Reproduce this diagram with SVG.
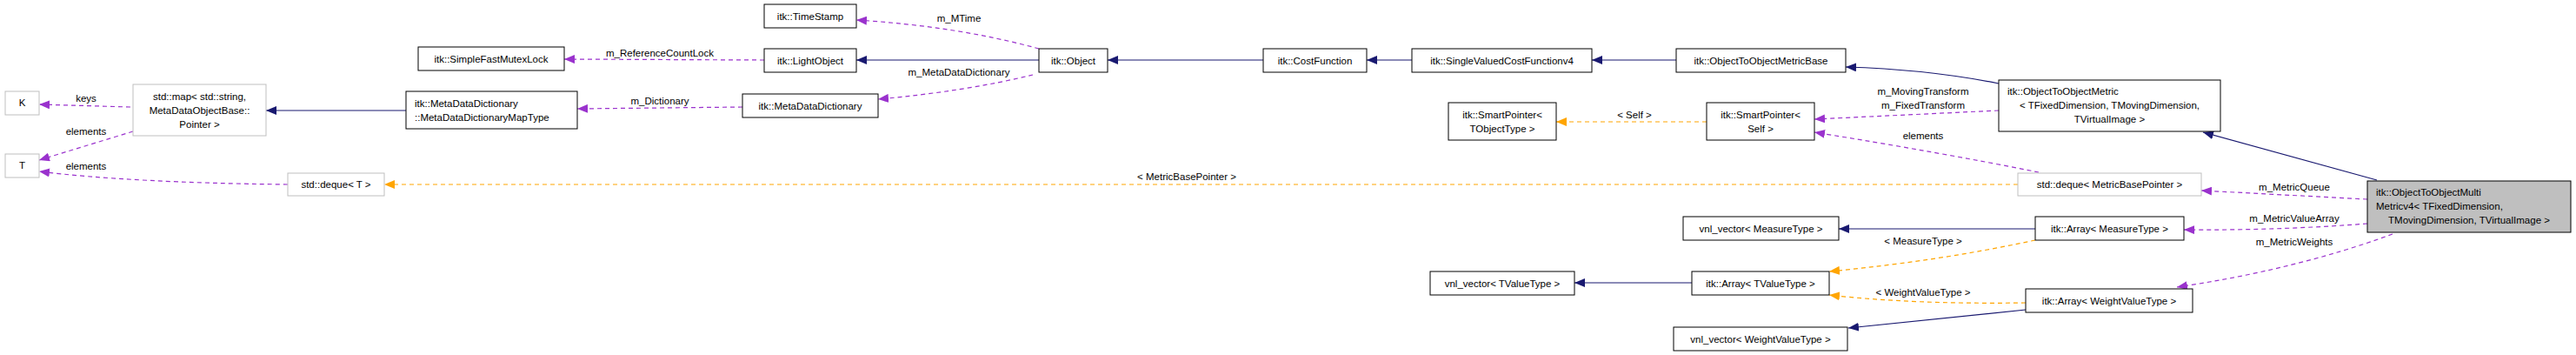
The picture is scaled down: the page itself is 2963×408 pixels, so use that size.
<svg xmlns="http://www.w3.org/2000/svg" width="2963" height="408" viewBox="0 0 2963 408">
<style>
text{font-family:"Liberation Sans Narrow","Liberation Sans",Arial,sans-serif;font-size:11.5px;fill:#000}
.n rect{fill:#fff;stroke:#000;stroke-width:1}
.g rect{fill:#fff;stroke:#bfbfbf;stroke-width:1}
.m rect{fill:#bfbfbf;stroke:#000;stroke-width:1}
.inh{fill:none;stroke:#191970;stroke-width:1.2;marker-end:url(#ai)}
.use{fill:none;stroke:#9a32cd;stroke-width:1.2;stroke-dasharray:5,4;marker-end:url(#au)}
.tpl{fill:none;stroke:#ffa500;stroke-width:1.2;stroke-dasharray:5,4;marker-end:url(#at)}
</style>
<defs>
<marker id="ai" markerUnits="userSpaceOnUse" markerWidth="12" markerHeight="10" refX="12" refY="5" orient="auto"><path d="M0,0L12,5L0,10z" fill="#191970"/></marker>
<marker id="au" markerUnits="userSpaceOnUse" markerWidth="12" markerHeight="10" refX="12" refY="5" orient="auto"><path d="M0,0L12,5L0,10z" fill="#9a32cd"/></marker>
<marker id="at" markerUnits="userSpaceOnUse" markerWidth="12" markerHeight="10" refX="12" refY="5" orient="auto"><path d="M0,0L12,5L0,10z" fill="#ffa500"/></marker>
</defs>
<rect width="2963" height="408" fill="#fff"/>
<g id="connectors">
<path class="inh" d="M1195,69L985,69"/>
<path class="inh" d="M1453,69L1274,69"/>
<path class="inh" d="M1624,69L1572,69"/>
<path class="inh" d="M1928,69L1831,69"/>
<path class="inh" d="M2299,96Q2220,80 2123,77"/>
<path class="inh" d="M2734,207L2534,152"/>
<path class="inh" d="M467,127L306,127"/>
<path class="inh" d="M2341,263L2115,263"/>
<path class="inh" d="M1946,325L1811,325"/>
<path class="inh" d="M2330,356L2126,377"/>
<path class="use" d="M1195,56Q1100,30 985,23"/>
<text x="1103" y="25" text-anchor="middle">m_MTime</text>
<path class="use" d="M879,69L649,68"/>
<text x="759" y="65" text-anchor="middle">m_ReferenceCountLock</text>
<path class="use" d="M1188,86Q1110,105 1010,114"/>
<text x="1103" y="87" text-anchor="middle">m_MetaDataDictionary</text>
<path class="use" d="M854,123L664,125"/>
<text x="759" y="120" text-anchor="middle">m_Dictionary</text>
<path class="use" d="M150,123L45,120"/>
<text x="99" y="117" text-anchor="middle">keys</text>
<path class="use" d="M153,151L45,184"/>
<text x="99" y="155" text-anchor="middle">elements</text>
<path class="use" d="M331,212Q150,210 45,197"/>
<text x="99" y="195" text-anchor="middle">elements</text>
<path class="use" d="M2299,127L2087,137"/>
<text x="2212" y="109" text-anchor="middle">m_MovingTransform</text>
<text x="2212" y="125" text-anchor="middle">m_FixedTransform</text>
<path class="use" d="M2345,198Q2230,175 2087,152"/>
<text x="2212" y="160" text-anchor="middle">elements</text>
<path class="use" d="M2723,229L2532,219"/>
<text x="2639" y="219" text-anchor="middle">m_MetricQueue</text>
<path class="use" d="M2723,257Q2620,265 2512,264"/>
<text x="2639" y="255" text-anchor="middle">m_MetricValueArray</text>
<path class="use" d="M2752,269Q2640,310 2504,330"/>
<text x="2639" y="282" text-anchor="middle">m_MetricWeights</text>
<path class="tpl" d="M1963,140L1790,140"/>
<text x="1880" y="136" text-anchor="middle">&lt; Self &gt;</text>
<path class="tpl" d="M2321,212L442,212"/>
<text x="1365" y="207" text-anchor="middle">&lt; MetricBasePointer &gt;</text>
<path class="tpl" d="M2341,276Q2230,300 2104,312"/>
<text x="2212" y="281" text-anchor="middle">&lt; MeasureType &gt;</text>
<path class="tpl" d="M2330,348Q2200,350 2104,339"/>
<text x="2212" y="340" text-anchor="middle">&lt; WeightValueType &gt;</text>
</g>
<g id="K" class="g"><rect x="6" y="105" width="39" height="27"/><text x="25.5" y="122" text-anchor="middle">K</text></g>
<g id="T" class="g"><rect x="6" y="177" width="39" height="27"/><text x="25.5" y="194" text-anchor="middle">T</text></g>
<g id="stdmap" class="g"><rect x="153" y="97" width="153" height="59"/><text x="229.5" y="115" text-anchor="middle">std::map&lt; std::string,</text><text x="229.5" y="131" text-anchor="middle">MetaDataObjectBase::</text><text x="229.5" y="147" text-anchor="middle">Pointer &gt;</text></g>
<g id="dequeT" class="g"><rect x="331" y="199" width="111" height="26"/><text x="386.5" y="216" text-anchor="middle">std::deque&lt; T &gt;</text></g>
<g id="SimpleFastMutexLock" class="n"><rect x="481" y="54" width="168" height="27"/><text x="565" y="72" text-anchor="middle">itk::SimpleFastMutexLock</text></g>
<g id="MapType" class="n"><rect x="467" y="105" width="197" height="43"/><text x="477" y="123">itk::MetaDataDictionary</text><text x="477" y="139">::MetaDataDictionaryMapType</text></g>
<g id="TimeStamp" class="n"><rect x="879" y="5" width="106" height="27"/><text x="932" y="23" text-anchor="middle">itk::TimeStamp</text></g>
<g id="LightObject" class="n"><rect x="879" y="56" width="106" height="27"/><text x="932" y="74" text-anchor="middle">itk::LightObject</text></g>
<g id="MetaDataDictionary" class="n"><rect x="854" y="108" width="156" height="27"/><text x="932" y="126" text-anchor="middle">itk::MetaDataDictionary</text></g>
<g id="Object" class="n"><rect x="1195" y="56" width="79" height="27"/><text x="1234.5" y="74" text-anchor="middle">itk::Object</text></g>
<g id="CostFunction" class="n"><rect x="1453" y="56" width="119" height="27"/><text x="1512.5" y="74" text-anchor="middle">itk::CostFunction</text></g>
<g id="SVCF" class="n"><rect x="1624" y="56" width="207" height="27"/><text x="1727.5" y="74" text-anchor="middle">itk::SingleValuedCostFunctionv4</text></g>
<g id="OTOMBase" class="n"><rect x="1928" y="56" width="195" height="27"/><text x="2025.5" y="74" text-anchor="middle">itk::ObjectToObjectMetricBase</text></g>
<g id="SPTObj" class="n"><rect x="1666" y="118" width="124" height="43"/><text x="1728" y="136" text-anchor="middle">itk::SmartPointer&lt;</text><text x="1728" y="152" text-anchor="middle">TObjectType &gt;</text></g>
<g id="SPSelf" class="n"><rect x="1963" y="118" width="124" height="43"/><text x="2025" y="136" text-anchor="middle">itk::SmartPointer&lt;</text><text x="2025" y="152" text-anchor="middle">Self &gt;</text></g>
<g id="OTOMetric" class="n"><rect x="2299" y="92" width="255" height="59"/><text x="2309" y="109">itk::ObjectToObjectMetric</text><text x="2426.5" y="125" text-anchor="middle">&lt; TFixedDimension, TMovingDimension,</text><text x="2426.5" y="141" text-anchor="middle">TVirtualImage &gt;</text></g>
<g id="dequeMBP" class="g"><rect x="2321" y="199" width="211" height="26"/><text x="2426.5" y="216" text-anchor="middle">std::deque&lt; MetricBasePointer &gt;</text></g>
<g id="vnlMeasure" class="n"><rect x="1936" y="249" width="179" height="27"/><text x="2025.5" y="267" text-anchor="middle">vnl_vector&lt; MeasureType &gt;</text></g>
<g id="ArrayMeasure" class="n"><rect x="2341" y="249" width="171" height="27"/><text x="2426.5" y="267" text-anchor="middle">itk::Array&lt; MeasureType &gt;</text></g>
<g id="vnlTValue" class="n"><rect x="1645" y="312" width="166" height="27"/><text x="1728" y="330" text-anchor="middle">vnl_vector&lt; TValueType &gt;</text></g>
<g id="ArrayTValue" class="n"><rect x="1946" y="312" width="158" height="27"/><text x="2025" y="330" text-anchor="middle">itk::Array&lt; TValueType &gt;</text></g>
<g id="ArrayWeight" class="n"><rect x="2330" y="332" width="192" height="27"/><text x="2426" y="350" text-anchor="middle">itk::Array&lt; WeightValueType &gt;</text></g>
<g id="vnlWeight" class="n"><rect x="1925" y="376" width="200" height="27"/><text x="2025" y="394" text-anchor="middle">vnl_vector&lt; WeightValueType &gt;</text></g>
<g id="Main" class="m"><rect x="2723" y="208" width="234" height="59"/><text x="2733" y="225">itk::ObjectToObjectMulti</text><text x="2733" y="241">Metricv4&lt; TFixedDimension,</text><text x="2840" y="257" text-anchor="middle">TMovingDimension, TVirtualImage &gt;</text></g>
</svg>
